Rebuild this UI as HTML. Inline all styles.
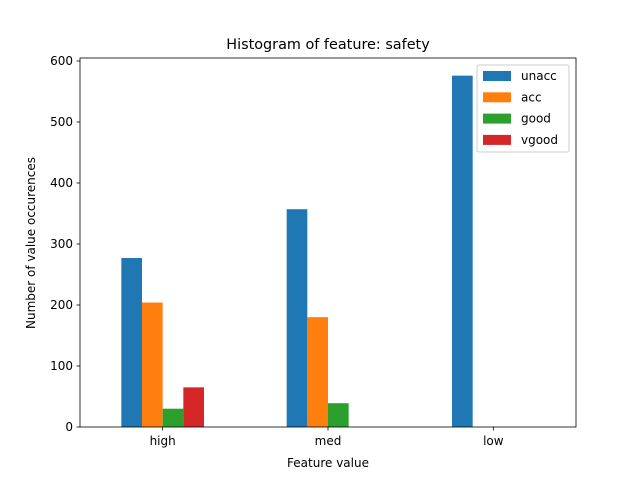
<!DOCTYPE html>
<html><head><meta charset="utf-8"><style>
body{margin:0;background:#fff}
text{font-family:"DejaVu Sans","Liberation Sans",sans-serif;fill:#000}
</style></head><body>
<svg id="c" width="640" height="480" xmlns="http://www.w3.org/2000/svg">
<rect width="640" height="480" fill="#fff"/>
<text x="328" y="49" font-size="14.4" text-anchor="middle">Histogram of feature: safety</text>
<text x="328" y="467" font-size="12" text-anchor="middle">Feature value</text>
<text transform="translate(35,243) rotate(-90)" font-size="12" text-anchor="middle">Number of value occurences</text>
<g id="bars"></g><g id="axes"></g>
</svg>
<script>
const categories=["high","med","low"];
const seriesNames=["unacc","acc","good","vgood"];
const unacc=[277,357,576];
const acc=[204,180,0];
const good=[30,39,0];
const vgood=[65,0,0];
const yTicks=[0,100,200,300,400,500,600];
const colors=["#1f77b4","#ff7f0e","#2ca02c","#d62728"];
const L=80,R=576,T=58,B=427;
const xs=i=>L+(i+0.5)*(R-L)/3;
const ys=v=>B-v*(B-61)/600;
const NS="http://www.w3.org/2000/svg";
const svg=document.getElementById('c'),bars=document.getElementById('bars'),axes=document.getElementById('axes');
function mk(t,a,p){const e=document.createElementNS(NS,t);for(const k in a)e.setAttribute(k,a[k]);(p||svg).appendChild(e);return e;}
const series=[unacc,acc,good,vgood];
const bw=(R-L)/3*0.5/4;
series.forEach((s,j)=>s.forEach((v,i)=>{
 const x=xs(i)-2*bw+j*bw;
 const r=mk('rect',{x:x,y:ys(v),width:bw,height:B-ys(v),fill:colors[j]},bars);
 
 
}));
const f=mk('rect',{x:L,y:T,width:R-L,height:B-T,fill:'none',stroke:'#000','stroke-width':0.8},axes);


yTicks.forEach(v=>{
 mk('line',{x1:L-3.5,x2:L,y1:ys(v),y2:ys(v),stroke:'#000','stroke-width':0.8},axes);
 const t=mk('text',{x:L-7,y:ys(v)+4,'font-size':12,'text-anchor':'end'},axes);t.textContent=v;
 
 
});
categories.forEach((c,i)=>{
 mk('line',{x1:xs(i),x2:xs(i),y1:B,y2:B+3.5,stroke:'#000','stroke-width':0.8},axes);
 const t=mk('text',{x:xs(i),y:B+18,'font-size':12,'text-anchor':'middle'},axes);t.textContent=c;
 
 
});
const lg=mk('g',{},svg);


mk('rect',{x:477,y:65,width:92,height:87,fill:'#fff',stroke:'#ccc',rx:2},lg);
seriesNames.forEach((n,j)=>{
 const y=76+j*21.3;
 mk('rect',{x:483,y:y-5,width:28,height:10,fill:colors[j]},lg);
 const t=mk('text',{x:521,y:y+4,'font-size':12},lg);t.textContent=n;
 
 
});
</script>
</body></html>
